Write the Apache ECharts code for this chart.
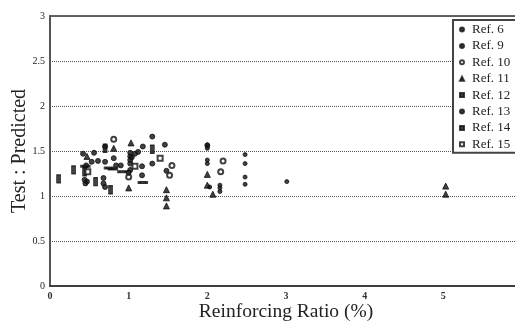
<!DOCTYPE html>
<html>
<head>
<meta charset="utf-8">
<script src="https://cdn.jsdelivr.net/npm/echarts@6/dist/echarts.min.js"></script>
<style>
  html, body { margin: 0; padding: 0; background: #fff; }
  #main { width: 515px; height: 323px; }
</style>
</head>
<body>
<div id="main"></div>
<script>
// values: [reinforcing ratio %, test/predicted]
var ref6 = [[2.0, 1.57], [2.0, 1.53], [2.0, 1.40], [2.0, 1.36], [2.03, 1.10], [2.16, 1.12], [2.16, 1.09],
            [2.16, 1.05], [2.48, 1.46], [2.48, 1.36], [2.48, 1.21], [2.48, 1.13], [3.01, 1.16]];
var ref9 = [[0.42, 1.47], [0.56, 1.48], [0.53, 1.38], [0.61, 1.39], [0.70, 1.38], [0.70, 1.55], [0.81, 1.42],
            [0.84, 1.34], [0.90, 1.34], [1.02, 1.48], [1.02, 1.44], [1.04, 1.43], [1.08, 1.47], [1.12, 1.49],
            [1.18, 1.55], [1.02, 1.36], [1.02, 1.29], [1.17, 1.33], [1.17, 1.23], [1.30, 1.66], [1.30, 1.36],
            [1.46, 1.57], [1.48, 1.28], [2.0, 1.56]];
var ref10 = [[0.81, 1.63], [1.0, 1.21], [1.52, 1.23], [1.55, 1.34], [2.2, 1.39], [2.17, 1.27]];
var ref11 = [[0.47, 1.44], [1.03, 1.59], [1.48, 1.07], [1.48, 0.98], [1.48, 0.89], [2.0, 1.24], [2.0, 1.12],
             [2.07, 1.02], [5.03, 1.11], [5.03, 1.02], [0.81, 1.53], [1.0, 1.09]];
var ref12 = [[0.75, 1.31], [0.80, 1.30], [0.92, 1.27], [1.18, 1.15], [0.45, 1.33]];
var ref13 = [[0.44, 1.18], [0.47, 1.16], [0.45, 1.14], [0.68, 1.20], [0.68, 1.14], [0.70, 1.10],
             [0.46, 1.34], [1.02, 1.40], [1.0, 1.26]];
var ref14 = [[0.11, 1.19], [0.30, 1.29], [0.58, 1.16], [0.77, 1.07], [0.70, 1.53], [1.30, 1.52], [0.44, 1.27]];
var ref15 = [[0.48, 1.27], [1.08, 1.33], [1.40, 1.42]];

var xTicks = [0, 1, 2, 3, 4, 5];
var yTicks = [0, 0.5, 1, 1.5, 2, 2.5, 3];

var chart = echarts.init(document.getElementById('main'));
var serif = 'Liberation Serif';

function pts(name, data, symbol, size) {
    return {
        name: name,
        type: 'scatter',
        data: data,
        symbol: symbol,
        symbolSize: size,
        itemStyle: { color: '#111', borderColor: '#111', borderWidth: 1 }
    };
}

var option = {
    animation: false,
    backgroundColor: '#fff',
    grid: {
        left: 50, top: 16, width: 472, height: 270,
        outerBoundsMode: 'none', containLabel: false,
        show: true, borderColor: '#333', borderWidth: 1.5
    },
    legend: {
        orient: 'vertical',
        left: 453, top: 20,
        padding: [3, 6, 2, 6],
        itemWidth: 4, itemHeight: 4, itemGap: 3.4,
        backgroundColor: '#fff',
        borderColor: '#444', borderWidth: 2,
        textStyle: { fontFamily: serif, fontSize: 13, lineHeight: 13, color: '#222', padding: [0, 0, 0, 3] },
        data: ['Ref. 6', 'Ref. 9', 'Ref. 10', 'Ref. 11', 'Ref. 12', 'Ref. 13', 'Ref. 14', 'Ref. 15']
    },
    xAxis: {
        type: 'value', min: 0, max: 6, interval: 1,
        name: 'Reinforcing Ratio (%)', nameLocation: 'middle', nameGap: 16, nameMoveOverlap: false,
        nameTextStyle: { fontFamily: serif, fontSize: 19.5, color: '#222' },
        axisLine: { show: true, lineStyle: { color: '#333', width: 1.5 } },
        axisTick: { show: false },
        splitLine: { show: false },
        axisLabel: {
            fontFamily: serif, fontSize: 10, fontWeight: 'bold', color: '#333', margin: 5,
            formatter: function (v) { return xTicks.indexOf(v) >= 0 ? String(v) : ''; }
        }
    },
    yAxis: {
        type: 'value', min: 0, max: 3, interval: 0.5,
        name: 'Test : Predicted', nameLocation: 'middle', nameGap: 20, nameMoveOverlap: false,
        nameTextStyle: { fontFamily: serif, fontSize: 20, color: '#222' },
        axisLine: { show: true, lineStyle: { color: '#555', width: 2 } },
        axisTick: { show: false },
        splitLine: { show: true, lineStyle: { type: 'dotted', color: '#555', width: 1 } },
        axisLabel: {
            fontFamily: serif, fontSize: 10, color: '#222', margin: 5,
            formatter: function (v) { return yTicks.indexOf(v) >= 0 ? String(v) : ''; }
        }
    },
    series: [
        pts('Ref. 6', ref6, 'circle', 4),
        pts('Ref. 9', ref9, 'circle', 5),
        pts('Ref. 10', ref10, 'emptyCircle', 5),
        pts('Ref. 11', ref11, 'triangle', 6),
        pts('Ref. 12', ref12, 'rect', [7, 2]),
        pts('Ref. 13', ref13, 'circle', 5),
        pts('Ref. 14', ref14, 'rect', [4, 8]),
        pts('Ref. 15', ref15, 'emptyRect', 5)
    ]
};

chart.setOption(option);
</script>
</body>
</html>
